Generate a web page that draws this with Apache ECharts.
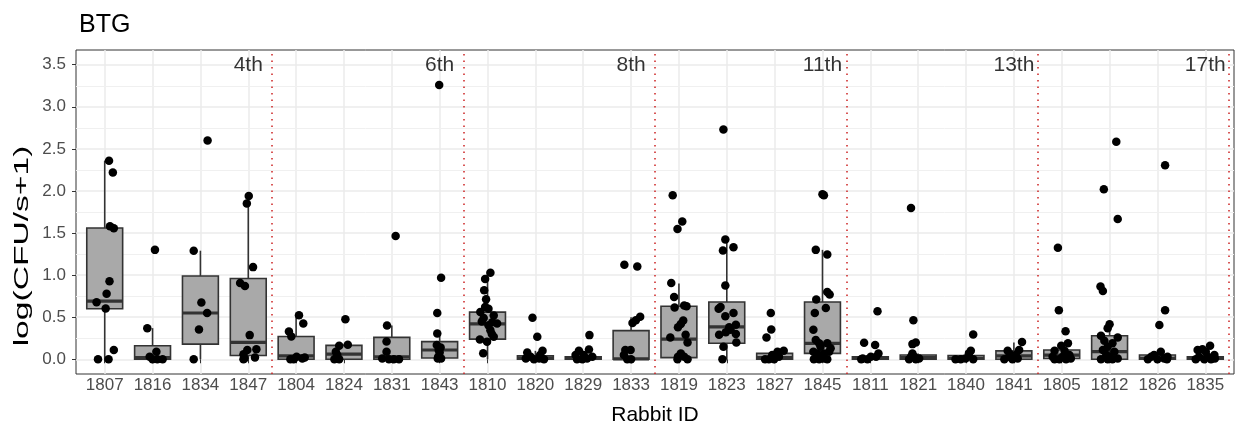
<!DOCTYPE html>
<html>
<head>
<meta charset="utf-8">
<script src="https://cdn.jsdelivr.net/npm/echarts@6/dist/echarts.min.js"></script>
<style>
  html, body { margin: 0; padding: 0; background: #fff; }
  #chart { width: 1239px; height: 427px; }
</style>
</head>
<body>
<div id="chart"></div>
<script>
// rabbits, in plotting order (4 per group)
const rabbitIds = [
  "1807", "1816", "1834", "1847",
  "1804", "1824", "1831", "1843",
  "1810", "1820", "1829", "1833",
  "1819", "1823", "1827", "1845",
  "1811", "1821", "1840", "1841",
  "1805", "1812", "1826", "1835"
];

// [lower whisker, Q1, median, Q3, upper whisker]
const boxStats = [
  [0, 0.6, 0.69, 1.56, 2.36],
  [0, 0, 0.02, 0.16, 0.37],
  [0, 0.18, 0.55, 0.99, 1.29],
  [0, 0.045, 0.2, 0.96, 1.94],
  [0, 0, 0.04, 0.27, 0.52],
  [0, 0, 0.06, 0.165, 0.175],
  [0, 0, 0.03, 0.26, 0.4],
  [0, 0.015, 0.11, 0.21, 0.31],
  [0, 0.24, 0.42, 0.56, 1.03],
  [0, 0, 0.01, 0.04, 0.1],
  [0, 0, 0.01, 0.03, 0.1],
  [0, 0, 0.005, 0.34, 0.5],
  [0, 0.02, 0.24, 0.63, 0.9],
  [0, 0.19, 0.385, 0.68, 1.42],
  [0, 0, 0.02, 0.07, 0.1],
  [0, 0.07, 0.19, 0.68, 1.3],
  [0, 0, 0.01, 0.03, 0.07],
  [0, 0, 0.02, 0.05, 0.07],
  [0, 0, 0.01, 0.045, 0.1],
  [0, 0, 0.04, 0.1, 0.2],
  [0, 0.01, 0.05, 0.11, 0.19],
  [0, 0, 0.09, 0.28, 0.42],
  [0, 0, 0.01, 0.05, 0.09],
  [0, 0, 0.01, 0.03, 0.05]
];

// jittered observations per rabbit: [jitter offset, log(CFU/s+1)]
const pointSets = [
  [[0.09,2.36],[0.17,2.22],[0.11,1.58],[0.19,1.556],[0.10,0.926],[0.04,0.78],[-0.17,0.678],[0.02,0.603],[0.19,0.11],[-0.14,0],[0.08,0]],
  [[0.05,1.3],[-0.11,0.37],[0.08,0.09],[0,0],[0.1,0],[0.21,0],[-0.06,0.03]],
  [[-0.14,1.29],[0.15,2.6],[0.02,0.674],[0.14,0.55],[-0.03,0.355],[-0.14,0]],
  [[0.01,1.94],[-0.03,1.85],[0.1,1.095],[-0.17,0.906],[-0.07,0.87],[0.03,0.287],[0.17,0.12],[-0.02,0.11],[-0.1,0.06],[-0.08,0.01],[0.14,0.02],[-0.1,0]],
  [[0.06,0.524],[0.15,0.425],[-0.15,0.33],[-0.1,0.27],[-0.12,0],[-0.05,0],[0.01,0.03],[0.13,0.01],[0.18,0.02]],
  [[0.03,0.476],[0.08,0.173],[-0.1,0.16],[-0.17,0.09],[-0.2,0],[-0.14,0.05],[-0.1,0]],
  [[0.08,1.466],[-0.1,0.4],[-0.11,0.21],[-0.11,0.09],[-0.2,0.01],[-0.06,0],[0.04,0],[0.15,0]],
  [[-0.01,3.258],[0.03,0.969],[-0.05,0.551],[-0.05,0.306],[-0.06,0.17],[-0.02,0.11],[0.02,0.14],[-0.03,0.03],[0.03,0.01],[-0.04,0.01],[0,0.08]],
  [[0.06,1.028],[-0.05,0.953],[-0.07,0.819],[-0.03,0.713],[-0.05,0.622],[0.02,0.6],[-0.15,0.563],[0.13,0.52],[-0.08,0.49],[0.2,0.425],[0.02,0.405],[0.06,0.346],[-0.16,0.236],[-0.01,0.208],[0.13,0.267],[-0.09,0.071],[0.09,0.3],[-0.12,0.45],[0.1,0.44]],
  [[-0.06,0.492],[0.04,0.268],[0.15,0.1],[-0.17,0.08],[-0.1,0.03],[-0.03,0],[0.08,0.01],[-0.2,0.01],[0.18,0],[0.1,0.05]],
  [[0.13,0.287],[0.12,0.115],[-0.09,0.1],[-0.16,0.05],[0.01,0.05],[-0.02,0],[0.08,0.01],[-0.13,0],[0.19,0.03]],
  [[-0.14,1.123],[0.13,1.103],[0.19,0.504],[0.1,0.465],[0.03,0.43],[-0.12,0.11],[-0.01,0.11],[-0.15,0.05],[-0.08,0],[0,0]],
  [[-0.13,1.95],[0.07,1.638],[-0.03,1.547],[-0.16,0.906],[-0.1,0.74],[-0.09,0.615],[0.11,0.64],[0.16,0.63],[0.09,0.46],[0.04,0.42],[-0.02,0.38],[-0.18,0.26],[0.14,0.29],[0.18,0.2],[-0.02,0.03],[0.11,0.03],[0.18,0],[-0.03,0],[0.04,0.07]],
  [[-0.07,2.73],[-0.03,1.422],[-0.08,1.292],[0.14,1.33],[-0.03,0.878],[-0.13,0.62],[-0.17,0.6],[0.14,0.55],[-0.03,0.51],[0.05,0.38],[0.19,0.41],[0.08,0.35],[-0.16,0.29],[0.19,0.3],[-0.02,0.32],[0.2,0.2],[-0.07,0.15],[-0.09,0]],
  [[-0.08,0.551],[-0.07,0.355],[-0.17,0.26],[0.19,0.1],[0.06,0.09],[-0.05,0.05],[-0.2,0],[-0.12,0],[-0.01,0],[0.09,0.03]],
  [[0.03,1.95],[0,1.96],[-0.14,1.3],[0.1,1.245],[0.1,0.8],[0.15,0.77],[-0.13,0.71],[0.07,0.61],[-0.16,0.55],[-0.19,0.35],[-0.14,0.23],[-0.07,0.19],[0.1,0.19],[-0.04,0.15],[0.17,0.13],[-0.19,0.09],[-0.11,0.07],[0.03,0.07],[0.14,0.09],[-0.18,0],[-0.07,0],[0.03,0.01],[-0.04,0.03],[0.1,0]],
  [[0.15,0.571],[-0.13,0.196],[0.1,0.17],[0.17,0.07],[0.01,0.03],[-0.16,0.01],[-0.19,0],[-0.06,0],[0.12,0.03]],
  [[-0.15,1.797],[-0.1,0.464],[-0.12,0.18],[-0.05,0.2],[-0.12,0.07],[-0.15,0.03],[-0.05,0],[0.02,0.01],[-0.19,0],[-0.08,0.03]],
  [[0.15,0.295],[0.1,0.1],[0.06,0.07],[0.15,0],[-0.11,0],[-0.22,0],[-0.01,0.01]],
  [[0.17,0.204],[-0.13,0.1],[0.11,0.11],[-0.06,0.05],[0.04,0.05],[-0.2,0],[-0.03,0],[0.08,0.01],[-0.1,0.03]],
  [[-0.08,1.324],[-0.06,0.583],[0.08,0.332],[0.13,0.19],[-0.01,0.16],[-0.15,0.1],[0.06,0.1],[0.16,0.05],[-0.19,0.03],[-0.05,0],[0.09,0],[-0.15,0],[0.19,0.01],[0.02,0.03]],
  [[0.14,2.584],[-0.12,2.02],[0.17,1.667],[-0.19,0.866],[-0.14,0.81],[0,0.417],[-0.04,0.37],[0.17,0.26],[-0.18,0.28],[-0.11,0.22],[0.06,0.19],[-0.04,0.15],[-0.14,0.11],[0.1,0.09],[-0.07,0.05],[-0.18,0],[-0.04,0],[0.06,0],[0.17,0.01],[0,0.03]],
  [[0.16,2.305],[0.16,0.583],[0.04,0.406],[0.07,0.09],[-0.07,0.05],[-0.13,0.03],[0,0],[0.14,0.01],[-0.2,0],[0.2,0],[0.21,0.03]],
  [[0.1,0.16],[-0.06,0.12],[-0.16,0.11],[0.01,0.09],[0.19,0.05],[-0.13,0.03],[-0.2,0],[-0.02,0],[0.12,0],[0.2,0.01],[0.05,0.03]]
];

// day labels shown at the top of each group of 4 rabbits
const groupLabels = ["4th", "6th", "8th", "11th", "13th", "17th"];

const yTicks = [0, 0.5, 1, 1.5, 2, 2.5, 3, 3.5];
const yMinor = [0.25, 0.75, 1.25, 1.75, 2.25, 2.75, 3.25];

document.addEventListener("DOMContentLoaded", function () {
  const font = "'Liberation Sans', Arial, Helvetica, sans-serif";
  const xPositions = rabbitIds.map((id, i) => i + 1);

  let boxData = boxStats.map((s, i) => [i + 1].concat(s));
  let pointData = [];
  pointSets.forEach((set, i) => {
    set.forEach(([dx, v]) => pointData.push([i + 1 + dx, v]));
  });

  // box + whiskers drawn like ggplot (no whisker caps, thick median)
  function renderBox(params, api) {
    let x = api.value(0);
    let lo = api.coord([x, api.value(1)]);
    let q1 = api.coord([x, api.value(2)]);
    let md = api.coord([x, api.value(3)]);
    let q3 = api.coord([x, api.value(4)]);
    let hi = api.coord([x, api.value(5)]);
    let w = api.size([0.75, 0])[0];
    let stroke = "#333333";
    return {
      type: "group",
      children: [
        {
          type: "line",
          shape: { x1: lo[0], y1: lo[1], x2: q1[0], y2: q1[1] },
          style: { stroke: stroke, lineWidth: 1.6 },
        },
        {
          type: "line",
          shape: { x1: q3[0], y1: q3[1], x2: hi[0], y2: hi[1] },
          style: { stroke: stroke, lineWidth: 1.6 },
        },
        {
          type: "rect",
          shape: { x: q3[0] - w / 2, y: q3[1], width: w, height: q1[1] - q3[1] },
          style: { fill: "#A9A9A9", stroke: stroke, lineWidth: 1.6 },
        },
        {
          type: "line",
          shape: { x1: md[0] - w / 2, y1: md[1], x2: md[0] + w / 2, y2: md[1] },
          style: { stroke: stroke, lineWidth: 3.2 },
        },
      ],
    };
  }

  let chart = echarts.init(document.getElementById("chart"), null, {
    renderer: "canvas",
  });

  let option = {
    animation: false,
    backgroundColor: "#ffffff",
    textStyle: { fontFamily: font },
    title: {
      text: "BTG",
      left: 74,
      top: 8,
      textStyle: { fontFamily: font, fontSize: 25, fontWeight: "normal", color: "#000" },
    },
    // y axis title: the reference draws it wider-spaced than a plain label
    graphic: [
      {
        type: "text",
        x: 22.5,
        y: 246,
        rotation: Math.PI / 2,
        scaleX: 1.6,
        silent: true,
        style: {
          text: "log(CFU/s+1)",
          fontFamily: font,
          fontSize: 21,
          fill: "#000",
          align: "center",
          verticalAlign: "middle",
        },
      },
    ],
    grid: {
      left: 76,
      right: 5,
      top: 50,
      bottom: 53,
      outerBoundsMode: "none",
      containLabel: false,
      show: true,
      borderColor: "#333333",
      borderWidth: 1,
      backgroundColor: "transparent",
    },
    xAxis: {
      type: "value",
      min: 0.4,
      max: 24.6,
      name: "Rabbit ID",
      nameLocation: "middle",
      nameGap: 31,
      nameTextStyle: { fontFamily: font, fontSize: 21, color: "#000" },
      axisLine: { show: false },
      axisTick: {
        show: true,
        length: 4,
        customValues: xPositions,
        lineStyle: { color: "#333333", width: 1 },
      },
      axisLabel: {
        customValues: xPositions,
        formatter: (v) => rabbitIds[Math.round(v) - 1] || "",
        fontSize: 17,
        color: "#4D4D4D",
        margin: 3,
        fontFamily: font,
      },
      splitLine: { show: true, lineStyle: { color: "#EBEBEB", width: 1.5 } },
    },
    yAxis: {
      type: "value",
      min: -0.175,
      max: 3.675,
      axisLine: { show: false },
      axisTick: {
        show: true,
        length: 4,
        customValues: yTicks,
        lineStyle: { color: "#333333", width: 1 },
      },
      axisLabel: {
        customValues: yTicks,
        formatter: (v) => v.toFixed(1),
        fontSize: 17,
        color: "#4D4D4D",
        margin: 10,
        fontFamily: font,
      },
      splitLine: { show: true, lineStyle: { color: "#EBEBEB", width: 1.5 } },
    },
    series: [
      {
        // minor horizontal grid lines, kept under the boxes
        name: "minor",
        type: "scatter",
        data: [],
        z: 1,
        silent: true,
        markLine: {
          z: 1,
          silent: true,
          symbol: "none",
          label: { show: false },
          lineStyle: { color: "#F0F0F0", width: 1, type: "solid" },
          data: yMinor.map((v) => ({ yAxis: v })),
        },
      },
      {
        name: "box",
        type: "custom",
        renderItem: renderBox,
        encode: { x: 0, y: [1, 2, 3, 4, 5] },
        data: boxData,
        z: 3,
        silent: true,
      },
      {
        name: "points",
        type: "scatter",
        data: pointData,
        symbolSize: 8.5,
        itemStyle: { color: "#000000", opacity: 1 },
        z: 4,
        silent: true,
      },
      {
        name: "groups",
        type: "scatter",
        symbolSize: 1,
        z: 5,
        silent: true,
        itemStyle: { color: "rgba(0,0,0,0)" },
        label: {
          show: true,
          position: "inside",
          formatter: (p) => p.name,
          fontFamily: font,
          fontSize: 21,
          color: "#000",
        },
        data: groupLabels.map((t, g) => ({ name: t, value: [(g + 1) * 4, 3.5] })),
        markLine: {
          z: 2,
          silent: true,
          symbol: "none",
          label: { show: false },
          lineStyle: { color: "#CC2222", width: 1.5, type: [1.5, 5] },
          data: groupLabels.map((t, g) => ({ xAxis: (g + 1) * 4 + 0.5 })),
        },
      },
    ],
  };
  option && chart.setOption(option);
});
</script>
</body>
</html>
